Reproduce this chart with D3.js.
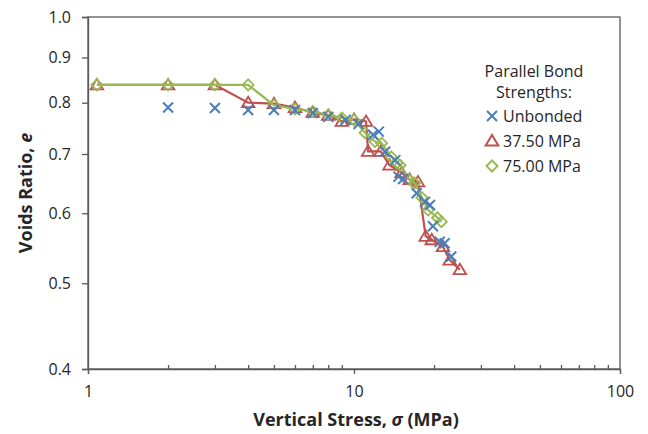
<!DOCTYPE html>
<html lang="en">
<head>
<meta charset="UTF-8">
<title>Voids Ratio vs Vertical Stress</title>
<script src="https://d3js.org/d3.v7.min.js"></script>
<style>
  body { margin: 0; background: #fff; }
  text { font-family: "Open Sans", Lato, sans-serif; fill: #262626; }
</style>
</head>
<body>
<script>
    // data: [stress MPa, voids ratio]
    var unbonded = [[2, 0.79], [3, 0.789], [4, 0.785], [5, 0.785], [6, 0.785], [7, 0.779],
        [8, 0.771], [9.3, 0.765], [10.4, 0.757], [11.8, 0.736], [12.4, 0.742], [13.1, 0.704],
        [14.3, 0.689], [14.7, 0.66], [15.3, 0.656], [17.2, 0.632], [18.5, 0.618], [19.3, 0.613],
        [19.8, 0.58], [21, 0.557], [21.9, 0.555], [23.2, 0.536]];
    var bond3750 = [[1.08, 0.838], [2, 0.838], [3, 0.838], [4, 0.80], [5, 0.798], [6, 0.79],
        [7, 0.78], [8, 0.774], [9, 0.762], [10, 0.766], [11.1, 0.762], [11.3, 0.705],
        [12.6, 0.705], [13.6, 0.68], [15.1, 0.667], [16.2, 0.655], [17.4, 0.651], [18.6, 0.565],
        [19.6, 0.56], [21.6, 0.55], [22.9, 0.531], [25, 0.518]];
    var bond7500 = [[1.08, 0.838], [2, 0.838], [3, 0.838], [4, 0.838], [5, 0.795], [6, 0.787],
        [7, 0.782], [8, 0.775], [9, 0.769], [10, 0.765], [11, 0.74], [12, 0.723], [12.7, 0.72],
        [13.8, 0.695], [14.5, 0.684], [14.9, 0.68], [16.1, 0.655], [16.9, 0.649], [18, 0.625],
        [19, 0.605], [20.6, 0.593], [21.3, 0.587]];
    var xTicks = [1, 10, 100];
    var xMinor = [2, 3, 4, 5, 6, 7, 8, 9, 20, 30, 40, 50, 60, 70, 80, 90];
    var yTicks = [0.4, 0.5, 0.6, 0.7, 0.8, 0.9, 1.0];
    var legendTitle = ["Parallel Bond", "Strengths:"];
    var legendNames = ["Unbonded", "37.50 MPa", "75.00 MPa"];

    var margin = {top: 17, right: 28, bottom: 65, left: 88},
        width = 648 - margin.left - margin.right,
        height = 434 - margin.top - margin.bottom;

    var blue = "#4a7ebb", red = "#c0504d", green = "#98b954";

    var svg = d3.select("body").append("svg")
        .attr("width", 648)
        .attr("height", 434)
        .append("g")
        .attr("transform", "translate(" + margin.left + "," + margin.top + ")");

    var x = d3.scaleLog().domain([1, 100]).range([0, width]);
    var y = d3.scaleLog().domain([0.4, 1.0]).range([height, 0]);

    // plot frame
    svg.append("rect")
        .attr("width", width).attr("height", height)
        .attr("fill", "none").attr("stroke", "#595959").attr("stroke-width", 1.3);

    // x axis: major and minor ticks
    svg.append("g")
        .attr("transform", "translate(0," + height + ")")
        .call(d3.axisBottom(x).tickValues(xTicks).tickFormat(d3.format("d")).tickSize(5).tickPadding(12));
    svg.append("g")
        .attr("transform", "translate(0," + height + ")")
        .call(d3.axisBottom(x).tickValues(xMinor).tickFormat("").tickSizeInner(-4).tickSizeOuter(0))
        .select(".domain").remove();

    svg.append("g")
        .call(d3.axisLeft(y).tickValues(yTicks).tickFormat(d3.format(".1f")).tickSize(6).tickPadding(11));

    svg.selectAll(".tick line").attr("stroke", "#595959").attr("stroke-width", 1.3);
    svg.selectAll(".domain").attr("stroke", "#595959").attr("stroke-width", 1.3);
    svg.selectAll(".tick text").style("font-size", "16px").attr("fill", "#404040");

    // axis titles
    svg.append("text")
        .attr("x", 268)
        .attr("y", height + 57)
        .attr("text-anchor", "middle")
        .style("font-size", "18px").style("font-weight", "bold")
        .html('Vertical Stress, <tspan font-style="italic">σ</tspan> (MPa)');

    svg.append("text")
        .attr("transform", "rotate(-90)")
        .attr("x", -176)
        .attr("y", -56)
        .attr("text-anchor", "middle")
        .style("font-size", "18px").style("font-weight", "bold")
        .html('Voids Ratio, <tspan font-style="italic">e</tspan>');

    var line = d3.line().x(function(d) { return x(d[0]); }).y(function(d) { return y(d[1]); });

    function crossPath(s) { return "M" + (-s) + "," + (-s) + "L" + s + "," + s + "M" + (-s) + "," + s + "L" + s + "," + (-s); }
    function triPath(s) { return "M0," + (-s) + "L" + (s * 1.05) + "," + (s * 0.75) + "L" + (-s * 1.05) + "," + (s * 0.75) + "Z"; }
    function diaPath(s) { return "M0," + (-s) + "L" + s + ",0L0," + s + "L" + (-s) + ",0Z"; }

    // 37.50 MPa
    svg.append("path").datum(bond3750).attr("d", line)
        .attr("fill", "none").attr("stroke", red).attr("stroke-width", 2.2);
    svg.selectAll(".tri").data(bond3750).enter().append("path")
        .attr("class", "tri")
        .attr("transform", function(d) { return "translate(" + x(d[0]) + "," + y(d[1]) + ")"; })
        .attr("d", triPath(6))
        .attr("fill", "none").attr("stroke", red).attr("stroke-width", 1.8);

    // 75.00 MPa
    svg.append("path").datum(bond7500).attr("d", line)
        .attr("fill", "none").attr("stroke", green).attr("stroke-width", 2.2);
    svg.selectAll(".dia").data(bond7500).enter().append("path")
        .attr("class", "dia")
        .attr("transform", function(d) { return "translate(" + x(d[0]) + "," + y(d[1]) + ")"; })
        .attr("d", diaPath(5.5))
        .attr("fill", "none").attr("stroke", green).attr("stroke-width", 1.8);

    // unbonded: markers only
    svg.selectAll(".cross").data(unbonded).enter().append("path")
        .attr("class", "cross")
        .attr("transform", function(d) { return "translate(" + x(d[0]) + "," + y(d[1]) + ")"; })
        .attr("d", crossPath(5))
        .attr("fill", "none").attr("stroke", blue).attr("stroke-width", 2);

    // legend
    var lg = svg.append("g");
    lg.selectAll(".lt").data(legendTitle).enter().append("text")
        .attr("x", 534 - margin.left).attr("y", function(d, i) { return 60 + i * 21; })
        .attr("text-anchor", "middle")
        .style("font-size", "16px")
        .text(function(d) { return d; });

    var markers = [crossPath(5), triPath(6), diaPath(5.5)];
    var colors = [blue, red, green];
    var items = lg.selectAll(".li").data(legendNames).enter().append("g")
        .attr("transform", function(d, i) { return "translate(" + (492 - margin.left) + "," + (105 + i * 25) + ")"; });
    items.append("path")
        .attr("d", function(d, i) { return markers[i]; })
        .attr("transform", "translate(0,-6)")
        .attr("fill", "none")
        .attr("stroke", function(d, i) { return colors[i]; })
        .attr("stroke-width", 2);
    items.append("text")
        .attr("x", 11).attr("y", 0)
        .style("font-size", "16px")
        .text(function(d) { return d; });
</script>
</body>
</html>
